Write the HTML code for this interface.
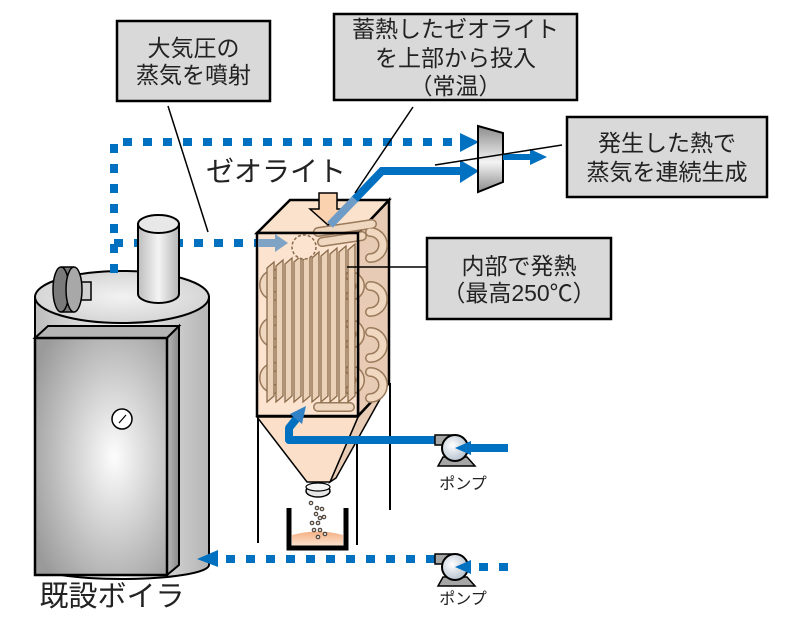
<!DOCTYPE html>
<html><head><meta charset="utf-8"><style>
html,body{margin:0;padding:0;background:#fff;}
svg{display:block;}
text{font-family:"Liberation Sans","Noto Sans CJK JP",sans-serif;fill:#222;}
</style></head><body>
<svg width="785" height="637" viewBox="0 0 785 637" xmlns="http://www.w3.org/2000/svg">
<defs>
<linearGradient id="cyl" x1="0" y1="0" x2="1" y2="0">
<stop offset="0" stop-color="#bdbdbd"/><stop offset="0.5" stop-color="#f4f4f4"/><stop offset="1" stop-color="#b5b5b5"/>
</linearGradient>
<radialGradient id="panel" cx="0.6" cy="0.5" r="0.7">
<stop offset="0" stop-color="#fdfdfd"/><stop offset="1" stop-color="#9a9a9a"/>
</radialGradient>
<linearGradient id="side" x1="0" y1="0" x2="1" y2="0">
<stop offset="0" stop-color="#b8b8b8"/><stop offset="1" stop-color="#8a8a8a"/>
</linearGradient>
<radialGradient id="topel" cx="0.5" cy="0.5" r="0.6">
<stop offset="0" stop-color="#f2f2f2"/><stop offset="1" stop-color="#d0d0d0"/>
</radialGradient>
<linearGradient id="turb" x1="0" y1="0" x2="0" y2="1">
<stop offset="0" stop-color="#8c8c8c"/><stop offset="0.55" stop-color="#f4f4f4"/><stop offset="1" stop-color="#8c8c8c"/>
</linearGradient>
<radialGradient id="pump" cx="0.4" cy="0.4" r="0.6">
<stop offset="0" stop-color="#ffffff"/><stop offset="1" stop-color="#b9c4d0"/>
</radialGradient>
<linearGradient id="sand" x1="0" y1="0" x2="0" y2="1">
<stop offset="0" stop-color="#f4b183"/><stop offset="1" stop-color="#fbe2cf"/>
</linearGradient>
</defs>

<!-- Callout boxes -->
<rect x="117" y="21" width="153" height="80" fill="#d9d9d9" stroke="#000" stroke-width="2.5"/>
<text x="193.5" y="56" font-size="23" text-anchor="middle">大気圧の</text>
<text x="193.5" y="83" font-size="23" text-anchor="middle">蒸気を噴射</text>

<rect x="334" y="14" width="243" height="86" fill="#d9d9d9" stroke="#000" stroke-width="2.5"/>
<text x="455.5" y="37" font-size="23" text-anchor="middle">蓄熱したゼオライト</text>
<text x="455.5" y="66" font-size="23" text-anchor="middle">を上部から投入</text>
<text x="455.5" y="94" font-size="23" text-anchor="middle">（常温）</text>

<rect x="567" y="117" width="200" height="80" fill="#d9d9d9" stroke="#000" stroke-width="2.5"/>
<text x="667" y="151" font-size="23" text-anchor="middle">発生した熱で</text>
<text x="667" y="180" font-size="23" text-anchor="middle">蒸気を連続生成</text>

<rect x="427" y="238" width="184" height="81" fill="#d9d9d9" stroke="#000" stroke-width="2.5"/>
<text x="519" y="274" font-size="23" text-anchor="middle">内部で発熱</text>
<text x="519" y="301" font-size="23" text-anchor="middle">（最高250℃）</text>

<text x="276" y="181" font-size="28" text-anchor="middle">ゼオライト</text>
<text x="112" y="606" font-size="29" text-anchor="middle">既設ボイラ</text>
<text x="463" y="489" font-size="16" text-anchor="middle">ポンプ</text>
<text x="463" y="604" font-size="16" text-anchor="middle">ポンプ</text>

<!-- Boiler -->
<path d="M35,297 L35,565 A87,14 0 0 0 209,565 L209,297 Z" fill="url(#cyl)" stroke="#000" stroke-width="2"/>
<ellipse cx="122" cy="297" rx="87" ry="26" fill="url(#topel)" stroke="#000" stroke-width="2"/>

<!-- dotted steam lines (behind chimney) -->
<path d="M114,273 L114,142 L460,142" fill="none" stroke="#0070c0" stroke-width="8" stroke-dasharray="9 11"/>
<path d="M114,243 L258,243" fill="none" stroke="#0070c0" stroke-width="8" stroke-dasharray="9 11"/>
<polygon points="460,133 479,142 460,152" fill="#0070c0"/>

<!-- chimney -->
<path d="M138,224 L138,294 A20.5,9 0 0 0 179,294 L179,224 Z" fill="url(#cyl)" stroke="#000" stroke-width="2"/>
<ellipse cx="158.5" cy="224" rx="20.5" ry="9" fill="#e8e8e8" stroke="#000" stroke-width="2"/>

<!-- fan motor -->
<polygon points="80,282 91,282 91,300 80,300" fill="#d0d0d0" stroke="#000" stroke-width="1.5"/>
<rect x="61" y="267" width="13" height="45" fill="#7a7a7a"/>
<ellipse cx="61" cy="289.5" rx="8" ry="22.5" fill="#7a7a7a" stroke="#000" stroke-width="1.5"/>
<line x1="61" y1="267" x2="74" y2="267" stroke="#000" stroke-width="1.5"/>
<line x1="61" y1="312" x2="74" y2="312" stroke="#000" stroke-width="1.5"/>
<ellipse cx="74" cy="289.5" rx="8" ry="22.5" fill="#a8a8a8" stroke="#000" stroke-width="1.5"/>

<!-- front panel -->
<polygon points="35,338 48,326 179,326 167,338" fill="#b5b5b5" stroke="#000" stroke-width="2"/>
<polygon points="167,338 179,326 179,565 167,575" fill="url(#side)" stroke="#000" stroke-width="2"/>
<rect x="35" y="338" width="132" height="237" fill="url(#panel)" stroke="#000" stroke-width="2.5"/>
<circle cx="122" cy="419" r="10" fill="#fff" stroke="#000" stroke-width="1.5"/>
<line x1="119" y1="423" x2="126" y2="415" stroke="#000" stroke-width="1.2"/>

<!-- bottom dotted line to boiler -->
<path d="M435,559 L218,559" fill="none" stroke="#0070c0" stroke-width="8" stroke-dasharray="9 11"/>
<polygon points="218,550 197,559 218,567" fill="#0070c0"/>

<!-- Reactor legs -->
<line x1="258" y1="417" x2="258" y2="543" stroke="#000" stroke-width="2"/>
<line x1="357" y1="417" x2="357" y2="545" stroke="#000" stroke-width="2"/>
<line x1="390" y1="383" x2="390" y2="510" stroke="#000" stroke-width="2"/>

<!-- hopper -->
<polygon points="358,417 389,383 336,478 330,482" fill="#e9ccb6" stroke="#000" stroke-width="1.5"/>
<polygon points="257,417 358,417 330,482 307,482" fill="#fbdfc8" stroke="#000" stroke-width="1.5"/>
<ellipse cx="318" cy="491" rx="12" ry="6" fill="#e6e6e6" stroke="#000" stroke-width="1.5"/>
<ellipse cx="318" cy="487" rx="12" ry="4" fill="#f4f4f4" stroke="#000" stroke-width="1.2"/>

<!-- container -->
<path d="M292,535 Q318,528 343,535 L343,546 L292,546 Z" fill="url(#sand)"/>
<path d="M289,508 L289,548 L346,548 L346,508" fill="none" stroke="#000" stroke-width="5"/>
<g fill="#e6d2bd" stroke="#333" stroke-width="1">
<circle cx="311" cy="503" r="1.8"/><circle cx="317" cy="508" r="1.8"/><circle cx="322" cy="509" r="1.8"/>
<circle cx="316" cy="514" r="1.8"/><circle cx="320" cy="518" r="1.8"/><circle cx="324" cy="517" r="1.8"/>
<circle cx="312" cy="523" r="1.8"/><circle cx="318" cy="523" r="1.8"/><circle cx="314" cy="530" r="1.8"/>
<circle cx="320" cy="530" r="1.8"/><circle cx="325" cy="534" r="1.8"/><circle cx="318" cy="537" r="1.8"/>
</g>

<!-- reactor box: right face, top face, front face -->
<polygon points="358,233 389,200 389,383 358,416" fill="#e8cbb4" stroke="#000" stroke-width="2.5"/>
<polygon points="257,233 290,200 389,200 358,233" fill="#fbe2cc" stroke="#000" stroke-width="2.5"/>
<rect x="257" y="233" width="101" height="183" fill="#fce3cf"/>

<!-- pipes inside -->
<g fill="none" stroke-linecap="round">
<g stroke="#9a7a5a" stroke-width="10">
<path d="M275,274 A11,11 0 0 0 275,296"/>
<path d="M275,321 A11,11 0 0 0 275,343"/>
<path d="M275,367 A11,11 0 0 0 275,389"/>
<path d="M370,232 A13,13 0 0 1 370,258"/>
<path d="M370,286 A13,13 0 0 1 370,312"/>
<path d="M370,332 A13,13 0 0 1 370,358"/>
<path d="M370,372 A13,13 0 0 1 370,398"/>
<path d="M350,276 A10,10 0 0 1 350,296"/>
<path d="M350,324 A10,10 0 0 1 350,344"/>
<path d="M350,370 A10,10 0 0 1 350,390"/>
<path d="M318,232 L372,224"/>
<path d="M322,242 L362,236"/>
<path d="M318,407 L350,407"/>
</g>
<g stroke="#efd7c0" stroke-width="7">
<path d="M275,274 A11,11 0 0 0 275,296"/>
<path d="M275,321 A11,11 0 0 0 275,343"/>
<path d="M275,367 A11,11 0 0 0 275,389"/>
<path d="M370,232 A13,13 0 0 1 370,258"/>
<path d="M370,286 A13,13 0 0 1 370,312"/>
<path d="M370,332 A13,13 0 0 1 370,358"/>
<path d="M370,372 A13,13 0 0 1 370,398"/>
<path d="M350,276 A10,10 0 0 1 350,296"/>
<path d="M350,324 A10,10 0 0 1 350,344"/>
<path d="M350,370 A10,10 0 0 1 350,390"/>
<path d="M318,232 L372,224"/>
<path d="M322,242 L362,236"/>
<path d="M318,407 L350,407"/>
</g>
</g>

<!-- fins -->
<g fill="#ebd1b8" stroke="#8a6a4a" stroke-width="1.3">
<polygon points="267,268 274,262 274,396 267,402"/>
<polygon points="276,266 283,260 283,396 276,402"/>
<polygon points="285,264 292,258 292,396 285,402"/>
<polygon points="294,262 301,256 301,396 294,402"/>
<polygon points="303,260 310,254 310,396 303,402"/>
<polygon points="312,258 319,252 319,396 312,402"/>
<polygon points="321,256 328,250 328,396 321,402"/>
<polygon points="330,254 337,248 337,396 330,402"/>
<polygon points="339,252 346,246 346,396 339,402"/>
<polygon points="348,250 355,244 355,396 348,402"/>
</g>

<!-- cloud blob -->
<circle cx="304" cy="247" r="12" fill="#fbe3cf" stroke="#8a6a4a" stroke-width="1.5" stroke-dasharray="3 2"/>

<!-- front face outline -->
<rect x="257" y="233" width="101" height="183" fill="none" stroke="#000" stroke-width="2.5"/>

<!-- peach down arrow -->
<polygon points="319,193 337,193 337,209 347,209 328,225 310,209 319,209" fill="#fad2af" stroke="#000" stroke-width="1.5"/>

<!-- blue main line to turbine -->
<polyline points="354,200 382,171 462,171" fill="none" stroke="#0070c0" stroke-width="8"/>
<line x1="330" y1="225" x2="355" y2="199" stroke="#6f9cc6" stroke-width="8"/>
<polygon points="460,160 479,171 460,183" fill="#0070c0"/>

<!-- light blue left arrow inside box -->
<rect x="258" y="239" width="19" height="8" fill="#7fa3c4"/>
<polygon points="275,234 288,243 275,252" fill="#7fa3c4"/>

<!-- pump 1 line into reactor bottom -->
<polyline points="437,440 289,440 289,428 297,418" fill="none" stroke="#0070c0" stroke-width="8" stroke-linejoin="round"/>
<polygon points="290,414 306,406 302,424" fill="#2f80c4"/>

<!-- turbine -->
<polygon points="478,126 503,133 503,182 478,192" fill="url(#turb)" stroke="#000" stroke-width="2"/>
<line x1="503" y1="157" x2="532" y2="157" stroke="#0070c0" stroke-width="6"/>
<polygon points="530,149 547,157 530,165" fill="#0070c0"/>

<!-- pump 1 -->
<polygon points="443,457 467,457 475,466 438,466" fill="#a6a6a6" stroke="#000" stroke-width="1.5"/>
<rect x="435" y="435" width="18" height="10" fill="#a6a6a6" stroke="#000" stroke-width="1.5"/>
<circle cx="455" cy="448" r="13" fill="url(#pump)" stroke="#000" stroke-width="2"/>
<line x1="468" y1="448" x2="508" y2="448" stroke="#0070c0" stroke-width="8"/>
<polygon points="455,448 471,441 471,455" fill="#0070c0"/>

<!-- pump 2 -->
<polygon points="443,577 467,577 475,586 438,586" fill="#a6a6a6" stroke="#000" stroke-width="1.5"/>
<rect x="435" y="554" width="18" height="10" fill="#a6a6a6" stroke="#000" stroke-width="1.5"/>
<circle cx="455" cy="567" r="13" fill="url(#pump)" stroke="#000" stroke-width="2"/>
<path d="M508,567 L472,567" fill="none" stroke="#0070c0" stroke-width="8" stroke-dasharray="9 11"/>
<polygon points="455,567 471,560 471,574" fill="#0070c0"/>

<!-- callout leader lines -->
<g stroke="#000" stroke-width="1.5">
<line x1="168" y1="106" x2="208" y2="232"/>
<line x1="413" y1="107" x2="355" y2="193"/>
<line x1="562" y1="145" x2="435" y2="165"/>
<line x1="347" y1="267" x2="427" y2="267"/>
</g>
</svg>
</body></html>
